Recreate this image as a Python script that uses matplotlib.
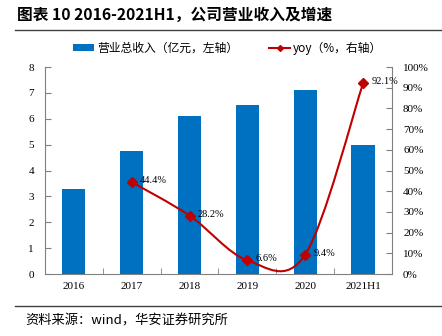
import matplotlib
matplotlib.use("Agg")
import matplotlib.pyplot as plt
from matplotlib.path import Path
from matplotlib.patches import PathPatch
from matplotlib.lines import Line2D
from matplotlib.patches import Patch
import numpy as np

categories = ["2016", "2017", "2018", "2019", "2020", "2021H1"]
revenue = [3.28, 4.77, 6.12, 6.52, 7.13, 4.97]
yoy_cats = ["2017", "2018", "2019", "2020", "2021H1"]
yoy = [44.4, 28.2, 6.6, 9.4, 92.1]
yoy_labels = ["44.4%", "28.2%", "6.6%", "9.4%", "92.1%"]

cjk = ["Noto Sans CJK SC", "DejaVu Sans"]
serif = ["Liberation Serif", "Noto Sans CJK SC"]

fig = plt.figure(figsize=(4.42, 3.36), dpi=100)
ax = fig.add_axes([0.1018, 0.1845, 0.785, 0.616])
x = np.arange(len(categories))
blue = "#0070C0"
red = "#C00000"
ax.bar(x, revenue, width=0.4, color=blue, zorder=2)
ax.set_xlim(-0.5, len(categories) - 0.5)
ax.set_ylim(0, 8)
ax.set_yticks(range(0, 9))
ax.set_xticks(x)
ax.set_xticklabels(categories, fontfamily=serif, fontsize=8)
ax.set_xticks(np.arange(-0.5, len(categories), 1.0), minor=True)
ax.tick_params(axis="x", which="major", length=0, pad=6)
ax.tick_params(axis="x", which="minor", length=4, direction="in", color="#808080")
ax.tick_params(axis="y", length=4, direction="in", color="#808080", labelsize=8, pad=8)
for lab in ax.get_yticklabels():
    lab.set_fontfamily(serif)
for s in ["top", "right"]:
    ax.spines[s].set_visible(False)
for s in ["left", "bottom"]:
    ax.spines[s].set_color("#808080")
    ax.spines[s].set_linewidth(0.8)

ax2 = ax.twinx()
ax2.set_ylim(0, 100)
ax2.set_yticks(range(0, 101, 10))
ax2.set_yticklabels([f"{v}%" for v in range(0, 101, 10)], fontfamily=serif, fontsize=8)
ax2.tick_params(axis="y", length=4, direction="in", color="#808080", pad=8)
for s in ["top", "left", "bottom"]:
    ax2.spines[s].set_visible(False)
ax2.spines["right"].set_color("#808080")
ax2.spines["right"].set_linewidth(0.8)

xs = np.array([categories.index(c) for c in yoy_cats], dtype=float)
ys = np.array(yoy, dtype=float)
# smooth curve via Catmull-Rom style bezier segments
verts = [(xs[0], ys[0])]
codes = [Path.MOVETO]
n = len(xs)
for i in range(n - 1):
    p0 = np.array([xs[max(i - 1, 0)], ys[max(i - 1, 0)]])
    p1 = np.array([xs[i], ys[i]])
    p2 = np.array([xs[i + 1], ys[i + 1]])
    p3 = np.array([xs[min(i + 2, n - 1)], ys[min(i + 2, n - 1)]])
    c1 = p1 + (p2 - p0) / 6.0
    c2 = p2 - (p3 - p1) / 6.0
    verts += [tuple(c1), tuple(c2), tuple(p2)]
    codes += [Path.CURVE4] * 3
ax2.add_patch(PathPatch(Path(verts, codes), facecolor="none", edgecolor=red, lw=1.5, zorder=3))
ax2.plot(xs, ys, linestyle="none", marker="D", markersize=5, color=red, zorder=4)
for xi, yi, lab in zip(xs, ys, yoy_labels):
    ax2.annotate(lab, (xi, yi), xytext=(6, 1), textcoords="offset points",
                 fontsize=7.5, fontfamily=serif, va="center", ha="left", zorder=5)

handles = [Patch(facecolor=blue, edgecolor="none"),
           Line2D([0], [0], color=red, lw=1.5, marker="D", markersize=3)]
fig.legend(handles, ["营业总收入（亿元，左轴）", "yoy（%，右轴）"],
           loc="center", bbox_to_anchor=(0.515, 0.857), ncol=2, frameon=False,
           prop={"family": cjk, "size": 8.5}, handlelength=1.8, handleheight=0.45,
           columnspacing=2.6, handletextpad=0.25)

fig.text(0.038, 0.955, "图表 10 2016-2021H1，公司营业收入及增速", fontfamily=cjk,
         fontsize=11.3, fontweight="bold", va="center", ha="left")
fig.add_artist(Line2D([0.034, 1.0], [0.912, 0.912], color="#404040", lw=1.0))
fig.add_artist(Line2D([0.034, 1.0], [0.088, 0.088], color="#404040", lw=1.0))
fig.text(0.057, 0.045, "资料来源：wind，华安证券研究所", fontfamily=cjk,
         fontsize=9.5, va="center", ha="left")

fig.savefig("out.png", dpi=100)
